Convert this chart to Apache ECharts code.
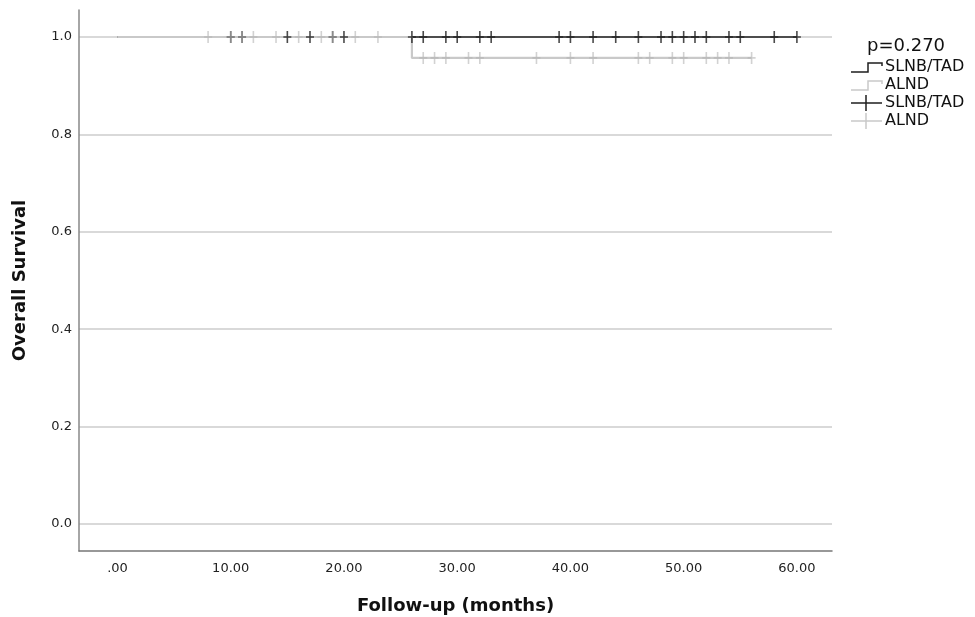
<!DOCTYPE html>
<html>
<head>
<meta charset="utf-8">
<script src="https://cdn.jsdelivr.net/npm/echarts@6/dist/echarts.min.js"></script>
<style>
html,body{margin:0;padding:0;background:#fff;}
#chart{width:975px;height:617px;}
</style>
</head>
<body>
<div id="chart"></div>
<script>
// ---- data ----
const xTickValues = [0, 10, 20, 30, 40, 50, 60];
const xTickLabels = ['.00', '10.00', '20.00', '30.00', '40.00', '50.00', '60.00'];
const yTickValues = [0, 0.2, 0.4, 0.6, 0.8, 1.0];
const yTickLabels = ['0.0', '0.2', '0.4', '0.6', '0.8', '1.0'];

// Kaplan-Meier step curves (time in months, survival)
const slnbCurveT = [0, 60];
const slnbCurveS = [1, 1];
const alndCurveT = [0, 26, 56];
const alndCurveS = [1, 0.957, 0.957];

// censored observations (months)
const slnbCensorT = [10, 11, 15, 17, 19, 20, 26, 27, 29, 30, 32, 33, 39, 40, 42, 44, 46, 48, 49, 50, 51, 52, 54, 55, 58, 60];
const alndCensorT = [8, 10, 11, 12, 14, 16, 18, 19, 21, 23, 27, 28, 29, 31, 32, 37, 40, 42, 46, 47, 49, 50, 52, 53, 54, 56];

const groupNames = ['SLNB/TAD', 'ALND'];
const pValueText = 'p=0.270';
const xTitle = 'Follow-up (months)';
const yTitle = 'Overall Survival';

// ---- helpers ----
function curvePoints(ts, ss) { return ts.map((t, i) => [t, ss[i]]); }
function survivalAt(ts, ss, t) {
  let s = ss[0];
  for (let i = 0; i < ts.length; i++) { if (ts[i] <= t) s = ss[i]; }
  return s;
}
function censorPoints(cts, ts, ss) { return cts.map(t => [t, survivalAt(ts, ss, t)]); }

const plusPath = 'path://M-0.8,-6 L0.8,-6 L0.8,-0.8 L4,-0.8 L4,0.8 L0.8,0.8 L0.8,6 L-0.8,6 L-0.8,0.8 L-4,0.8 L-4,-0.8 L-0.8,-0.8 Z';

const BLACK = '#1e1e1e';
const GRAY = '#c9c9c9';
const FONT = 'DejaVu Sans';

const chart = echarts.init(document.getElementById('chart'), null, { renderer: 'canvas' });

const legendX = 851, legendTextX = 885;
const legendY = [67, 85, 103, 121];

function stepSymbol(y, color) {
  return {
    type: 'polyline', silent: true,
    shape: { points: [[legendX, y + 5], [legendX + 17, y + 5], [legendX + 17, y - 4], [legendX + 31, y - 4], [legendX + 31, y - 1]] },
    style: { stroke: color, lineWidth: 1.5, fill: null }
  };
}
function censorSymbol(y, color) {
  return [
    { type: 'line', silent: true, shape: { x1: legendX, y1: y, x2: legendX + 31, y2: y }, style: { stroke: color, lineWidth: 1.5 } },
    { type: 'line', silent: true, shape: { x1: legendX + 15, y1: y - 8, x2: legendX + 15, y2: y + 8 }, style: { stroke: color, lineWidth: 1.5 } }
  ];
}
function legendText(y, txt) {
  return { type: 'text', silent: true, x: legendTextX, y: y, style: { text: txt, font: '16px ' + FONT, fill: '#111', verticalAlign: 'middle' } };
}

const option = {
  animation: false,
  backgroundColor: '#fff',
  grid: { left: 79, right: 143, top: 10, bottom: 66, containLabel: false, outerBoundsMode: 'none' },
  xAxis: {
    type: 'value', min: -3.4, max: 63.1,
    name: xTitle, nameLocation: 'middle', nameGap: 46,
    nameTextStyle: { fontFamily: FONT, fontWeight: 'bold', fontSize: 18, color: '#111' },
    axisLine: { show: true, onZero: false, lineStyle: { color: '#777', width: 1.5 } },
    axisTick: { show: false, customValues: xTickValues },
    axisLabel: {
      customValues: xTickValues, margin: 11,
      formatter: v => xTickLabels[xTickValues.indexOf(Math.round(v))] || '',
      fontFamily: FONT, fontSize: 13, color: '#222'
    },
    splitLine: { show: false }
  },
  yAxis: {
    type: 'value', min: -0.0554, max: 1.0554,
    name: yTitle, nameLocation: 'middle', nameGap: 50, nameRotate: 90,
    nameTextStyle: { fontFamily: FONT, fontWeight: 'bold', fontSize: 18, color: '#111' },
    axisLine: { show: true, onZero: false, lineStyle: { color: '#888', width: 1.5 } },
    axisTick: { show: false, customValues: yTickValues },
    axisLabel: {
      customValues: yTickValues, margin: 7,
      formatter: v => { const i = yTickValues.findIndex(t => Math.abs(t - v) < 1e-6); return i >= 0 ? yTickLabels[i] : ''; },
      fontFamily: FONT, fontSize: 13, color: '#222'
    },
    splitLine: { show: true, lineStyle: { color: '#cccccc', width: 1.5 } }
  },
  series: [
    {
      name: groupNames[0], type: 'line', step: 'end', z: 2,
      data: curvePoints(slnbCurveT, slnbCurveS),
      showSymbol: false, symbol: 'none',
      lineStyle: { color: BLACK, width: 1.5 }
    },
    {
      name: groupNames[1], type: 'line', step: 'end', z: 3,
      data: curvePoints(alndCurveT, alndCurveS),
      showSymbol: false, symbol: 'none',
      lineStyle: { color: GRAY, width: 2.2 }
    },
    {
      name: groupNames[0] + ' censored', type: 'scatter', z: 4,
      data: censorPoints(slnbCensorT, slnbCurveT, slnbCurveS),
      symbol: plusPath, symbolSize: [8, 12],
      itemStyle: { color: BLACK }
    },
    {
      name: groupNames[1] + ' censored', type: 'scatter', z: 5,
      data: censorPoints(alndCensorT, alndCurveT, alndCurveS),
      symbol: plusPath, symbolSize: [8, 12],
      itemStyle: { color: '#b4b4b4', opacity: 0.6 }
    }
  ],
  graphic: [
    { type: 'text', silent: true, x: 867, y: 46, style: { text: pValueText, font: '18px ' + FONT, fill: '#111', verticalAlign: 'middle' } },
    stepSymbol(legendY[0], BLACK),
    legendText(legendY[0], groupNames[0]),
    stepSymbol(legendY[1], GRAY),
    legendText(legendY[1], groupNames[1]),
    ...censorSymbol(legendY[2], BLACK),
    legendText(legendY[2], groupNames[0]),
    ...censorSymbol(legendY[3], GRAY),
    legendText(legendY[3], groupNames[1])
  ]
};
chart.setOption(option);
</script>
</body>
</html>
